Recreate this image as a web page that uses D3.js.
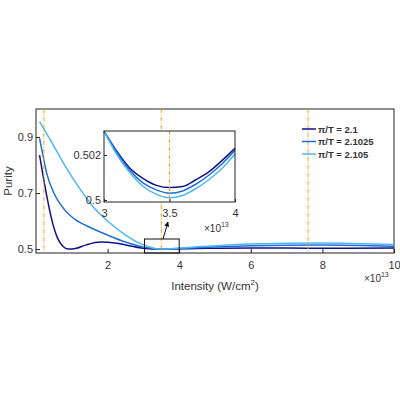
<!DOCTYPE html>
<html><head><meta charset="utf-8">
<script src="https://cdn.jsdelivr.net/npm/d3@7"></script>
<style>body{margin:0;background:#fff}text{font-family:"Liberation Sans",Arial,sans-serif;fill:#333}</style>
</head><body><div id="c"></div>
<script>
// main curves: [intensity (1e13 W/cm2), purity]
var s1 = [[0.1,0.835],[0.2,0.76],[0.3,0.69],[0.45,0.6],[0.6,0.54],[0.75,0.51],[0.9,0.5],[1.1,0.502],[1.4,0.515],[1.8,0.525],[2.2,0.522],[2.6,0.512],[3,0.503],[3.5,0.5],[4.5,0.502],[6,0.504],[8,0.503],[10,0.504]];
var s2 = [[0.1,0.895],[0.2,0.83],[0.3,0.77],[0.5,0.7],[0.8,0.64],[1.1,0.605],[1.5,0.578],[2,0.55],[2.5,0.525],[3,0.507],[3.5,0.5],[4.5,0.505],[6,0.512],[8,0.515],[10,0.51]];
var s3 = [[0.1,0.955],[0.4,0.89],[0.8,0.8],[1.2,0.72],[1.6,0.65],[2,0.6],[2.5,0.55],[3,0.515],[3.5,0.5],[4.5,0.508],[6,0.518],[8,0.522],[10,0.516]];
// inset curves (x in 1e13, purity)
var i1 = [[3,0.50307],[3.1,0.50215],[3.2,0.5014],[3.3,0.50095],[3.4,0.50065],[3.5,0.50055],[3.6,0.5006],[3.7,0.5009],[3.8,0.50125],[3.9,0.50175],[4,0.5023]];
var i2 = [[3,0.50307],[3.1,0.5021],[3.2,0.5013],[3.3,0.50075],[3.4,0.50045],[3.5,0.5003],[3.6,0.5004],[3.7,0.5007],[3.8,0.5011],[3.9,0.5016],[4,0.5022]];
var i3 = [[3,0.50307],[3.1,0.502],[3.2,0.5012],[3.3,0.5006],[3.4,0.50025],[3.5,0.5001],[3.6,0.5002],[3.7,0.5005],[3.8,0.5009],[3.9,0.5014],[4,0.50205]];
var names = ["\u03c0/T = 2.1","\u03c0/T = 2.1025","\u03c0/T = 2.105"];
var colors = ["#10108a","#1f6fd0","#4db8f2"];
var vlines = [0.22,3.5,7.6];
var xTicks = [2,4,6,8,10], yTicks = [0.5,0.7,0.9];

var svg = d3.select("#c").append("svg").attr("width",400).attr("height",400);
var x = d3.scaleLinear().domain([0,10]).range([36,394]);
var y = d3.scaleLinear().domain([0.486,1]).range([253,109]);
svg.append("rect").attr("x",36).attr("y",109).attr("width",358).attr("height",144).attr("fill","none").attr("stroke","#222");
var xa = svg.append("g").attr("transform","translate(0,253)").call(d3.axisBottom(x).tickValues(xTicks).tickSize(-4).tickFormat(d3.format("d")));
var ya = svg.append("g").attr("transform","translate(36,0)").call(d3.axisLeft(y).tickValues(yTicks).tickSize(-4).tickFormat(d3.format(".1f")));
[xa,ya].forEach(function(a){a.select(".domain").remove();a.selectAll("line").attr("stroke","#222");a.selectAll("text").attr("font-size",11).attr("fill","#333");});
xa.selectAll("text").attr("dy","1.2em");
var line = d3.line().x(function(d){return x(d[0]);}).y(function(d){return y(d[1]);}).curve(d3.curveMonotoneX);
[s1,s2,s3].forEach(function(s,i){svg.append("path").attr("d",line(s)).attr("fill","none").attr("stroke",colors[i]).attr("stroke-width",1.5);});
vlines.forEach(function(v){svg.append("line").attr("x1",x(v)).attr("x2",x(v)).attr("y1",109).attr("y2",253).attr("stroke","#f0a020").attr("stroke-dasharray","4,1.5,1,1.5").attr("stroke-width",1);});
svg.append("rect").attr("x",x(3.03)).attr("y",239).attr("width",x(4)-x(3.03)).attr("height",14).attr("fill","none").attr("stroke","#111");
svg.append("text").attr("x",215).attr("y",290).attr("text-anchor","middle").attr("font-size",11.5).html('Intensity (W/cm<tspan dy="-5" font-size="8">2</tspan><tspan dy="5">)</tspan>');
svg.append("text").attr("transform","translate(12,181) rotate(-90)").attr("text-anchor","middle").attr("font-size",11.5).text("Purity");
svg.append("text").attr("x",364).attr("y",282).attr("font-size",10).html('\u00d710<tspan dy="-5" font-size="7">13</tspan>');

// legend
names.forEach(function(n,i){
  var ly = 129 + i*12.5;
  svg.append("line").attr("x1",302).attr("x2",316).attr("y1",ly).attr("y2",ly).attr("stroke",colors[i]).attr("stroke-width",1.5);
  svg.append("text").attr("x",318).attr("y",ly+3.5).attr("font-size",9.5).attr("font-weight","bold").attr("fill","#222").text(n);
});

// inset
var ix = d3.scaleLinear().domain([3,4]).range([104,235]);
var iy = d3.scaleLinear().domain([0.49991,0.50307]).range([202,131]);
svg.append("rect").attr("x",104).attr("y",131).attr("width",131).attr("height",71).attr("fill","#fff");
var iline = d3.line().x(function(d){return ix(d[0]);}).y(function(d){return iy(d[1]);}).curve(d3.curveMonotoneX);
[i1,i2,i3].forEach(function(s,i){svg.append("path").attr("d",iline(s)).attr("fill","none").attr("stroke",colors[i]).attr("stroke-width",1.5);});
svg.append("line").attr("x1",ix(3.5)).attr("x2",ix(3.5)).attr("y1",131).attr("y2",202).attr("stroke","#f0a020").attr("stroke-dasharray","4,1.5,1,1.5");
svg.append("rect").attr("x",104).attr("y",131).attr("width",131).attr("height",71).attr("fill","none").attr("stroke","#222");
var ixa = svg.append("g").attr("transform","translate(0,202)").call(d3.axisBottom(ix).tickValues([3,3.5,4]).tickSize(-3).tickFormat(d3.format("")));
var iya = svg.append("g").attr("transform","translate(104,0)").call(d3.axisLeft(iy).tickValues([0.5,0.502]).tickSize(-3).tickFormat(function(d){return d===0.5?"0.5":"0.502";}));
[ixa,iya].forEach(function(a){a.select(".domain").remove();a.selectAll("line").attr("stroke","#222");a.selectAll("text").attr("font-size",11).attr("fill","#333");});
ixa.selectAll("text").attr("dy","1.1em");
svg.append("text").attr("x",204).attr("y",232).attr("font-size",10).html('\u00d710<tspan dy="-5" font-size="7">13</tspan>');
// arrow
svg.append("defs").append("marker").attr("id","ah").attr("viewBox","0 0 10 10").attr("refX",9).attr("refY",5).attr("markerWidth",5).attr("markerHeight",5).attr("orient","auto").append("path").attr("d","M0,0L10,5L0,10z").attr("fill","#111");
svg.append("line").attr("x1",163).attr("y1",239).attr("x2",168).attr("y2",222).attr("stroke","#111").attr("marker-end","url(#ah)");
</script></body></html>
